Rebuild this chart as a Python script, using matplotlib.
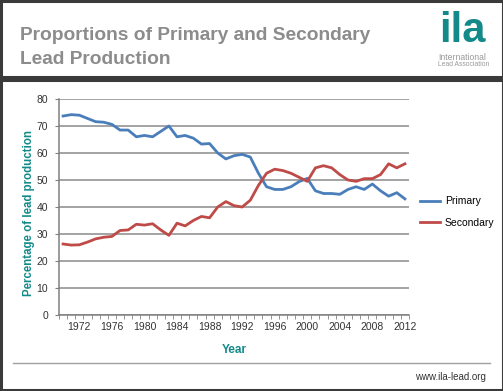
import numpy as np
import matplotlib
matplotlib.use("Agg")
import matplotlib.pyplot as plt
from matplotlib.patches import Rectangle
from matplotlib.lines import Line2D

plt.rcParams['font.family'] = ['Liberation Sans', 'DejaVu Sans']

# data (percent of total lead production)
years = list(range(1970, 2013))
primary = [73.7, 74.2, 74.0, 72.8, 71.6, 71.4, 70.6, 68.5, 68.5, 66.0,
           66.5, 66.0, 68.0, 70.0, 66.0, 66.5, 65.5, 63.3, 63.5, 60.0,
           57.8, 59.0, 59.5, 58.5, 52.5, 47.5, 46.5, 46.5, 47.5, 49.4,
           50.6, 46.0, 45.0, 45.0, 44.7, 46.5, 47.5, 46.5, 48.5, 46.0,
           44.0, 45.3, 43.0]
secondary = [26.3, 25.9, 26.0, 27.0, 28.2, 28.8, 29.1, 31.3, 31.5, 33.6,
             33.3, 33.8, 31.5, 29.5, 34.0, 33.0, 35.0, 36.5, 36.0, 40.0,
             42.0, 40.5, 40.0, 42.5, 48.0, 52.5, 54.0, 53.5, 52.5, 51.0,
             49.5, 54.5, 55.3, 54.5, 52.0, 50.0, 49.5, 50.5, 50.5, 52.0,
             56.0, 54.5, 56.0]
year_labels = list(range(1972, 2013, 4))

teal = '#138a89'
blue = '#4a7ebb'
red = '#be4b48'

fig = plt.figure(figsize=(5.03, 3.91), dpi=100)
W, H = 503, 391

def px(x, y):
    return x / W, 1 - y / H

# frame: header box and body box
fig.patches.append(Rectangle((0.5 / W, 1 - 77 / H), 1 - 1 / W, 76.5 / H, transform=fig.transFigure,
                             fill=False, edgecolor='#3a3a3a', linewidth=2.2))
fig.patches.append(Rectangle((0.5 / W, 1.5 / H), 1 - 1 / W, (389.5 - 80) / H, transform=fig.transFigure,
                             fill=False, edgecolor='#3a3a3a', linewidth=2.2))

# title
fig.text(*px(20, 35), 'Proportions of Primary and Secondary', fontsize=13.8, fontweight='bold',
         color='#8c8c8c', va='center', ha='left')
fig.text(*px(20, 60), 'Lead Production', fontsize=13.8, fontweight='bold',
         color='#8c8c8c', va='center', ha='left')

# logo
fig.text(*px(462, 31), 'ila', fontsize=30, fontweight='bold', color=teal, va='center', ha='center')
fig.text(*px(438, 57), 'International', fontsize=6.2, color='#9a9a9a', va='center', ha='left')
fig.text(*px(438, 65), 'Lead Association', fontsize=4.9, color='#9a9a9a', va='center', ha='left')

# footer
fig.lines.append(Line2D([13 / W, 490 / W], [1 - 363 / H] * 2, transform=fig.transFigure,
                        color='#a0a0a0', linewidth=1))
fig.text(*px(486, 377), 'www.ila-lead.org', fontsize=7, color='#333333', va='center', ha='right')

ax = fig.add_axes([59 / W, 1 - 315 / H, 350 / W, 216 / H])
ax.plot(years, primary, color=blue, linewidth=2.0, solid_joinstyle='round', label='Primary')
ax.plot(years, secondary, color=red, linewidth=2.0, solid_joinstyle='round', label='Secondary')

ax.set_xlim(1969.5, 2012.5)
ax.set_ylim(0, 80)
ax.set_yticks(range(0, 81, 10))
ax.set_xticks(year_labels)
ax.set_xticks(np.arange(1969.5, 2013, 1), minor=True)
ax.tick_params(axis='x', which='major', length=0, pad=5, labelsize=7.5, colors='#333333')
ax.tick_params(axis='x', which='minor', length=3, color='#808080', direction='out')
ax.tick_params(axis='y', length=3, color='#808080', labelsize=7.5, labelcolor='#333333', pad=5)
ax.grid(axis='y', color='#8a8a8a', linewidth=1.1)
ax.set_axisbelow(True)
for s in ['top', 'right']:
    ax.spines[s].set_visible(False)
for s in ['left', 'bottom']:
    ax.spines[s].set_color('#808080')
    ax.spines[s].set_linewidth(1.1)

ax.set_ylabel('Percentage of lead production', color=teal, fontsize=8.3, fontweight='bold')
ax.yaxis.set_label_coords(-(59 - 35) / 350, 0.47)
ax.set_xlabel('Year', color=teal, fontsize=8.5, fontweight='bold', labelpad=9)

ax.legend(loc='center left', bbox_to_anchor=(420 / W, 1 - 212 / H),
          bbox_transform=fig.transFigure, frameon=False, fontsize=7.5,
          handlelength=1.9, handletextpad=0.5, labelspacing=1.1, borderaxespad=0, borderpad=0)

fig.savefig('out.png', dpi=100)
